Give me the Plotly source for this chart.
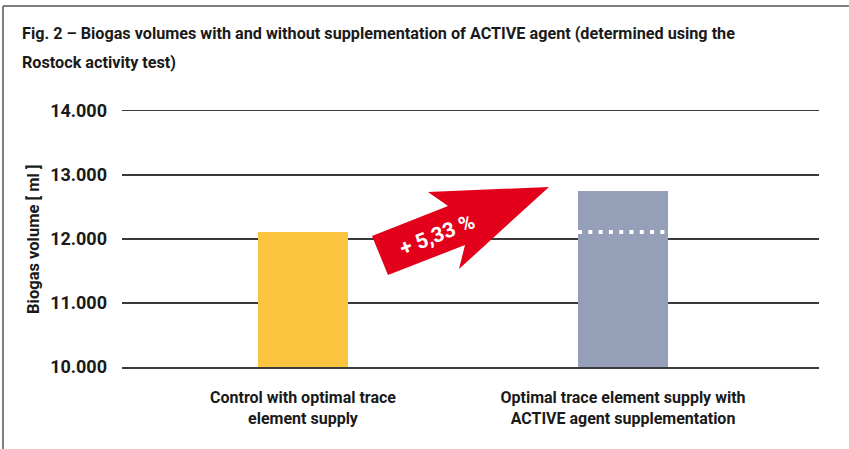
import plotly.graph_objects as go

# ---- data ----
categories = ["Control with optimal trace<br>element supply",
              "Optimal trace element supply with<br>ACTIVE agent supplementation"]
volumes = [12110, 12755]
bar_colors = ["#fbc540", "#959fb8"]
y_ticks = [10000, 11000, 12000, 13000, 14000]
y_tick_labels = ["10.000", "11.000", "12.000", "13.000", "14.000"]
increase_label = "+ 5,33 %"

FONT = "Roboto, Liberation Sans, sans-serif"
TXT = "#1a1a1a"
GRID = "#3a3a3a"
W, H = 849, 449
L, R, T, B = 122, 819, 111, 367
Y_RANGE = [10000, 14000]

def px(x, y):
    return (x - L) / (R - L), (B - y) / (B - T)

xs = list(range(len(categories)))
fig = go.Figure()
fig.add_trace(go.Bar(x=xs, y=volumes, marker=dict(color=bar_colors, line=dict(width=0)),
                     width=0.28125, base=0, hoverinfo="skip"))
fig.add_trace(go.Scatter(x=[xs[1] - 0.28125 / 2, xs[1] + 0.28125 / 2], y=[volumes[0], volumes[0]],
                         mode="lines", line=dict(color="white", width=4, dash="4px,6.3px"),
                         hoverinfo="skip"))

shapes = []
x0, y0 = px(3, 6); x1, _ = px(849, 6); _, y2 = px(3, 449)
shapes.append(dict(type="line", xref="paper", yref="paper", x0=x0, y0=y0, x1=x1, y1=y0,
                   line=dict(color="#555555", width=1.5)))
shapes.append(dict(type="line", xref="paper", yref="paper", x0=x0, y0=y0, x1=x0, y1=y2,
                   line=dict(color="#555555", width=1.5)))
pts = [(372, 236), (448, 206), (428, 192), (549, 187), (459, 269), (465, 245), (388, 275)]
path = "M " + " L ".join("%.5f,%.5f" % px(a, b) for a, b in pts) + " Z"
shapes.append(dict(type="path", xref="paper", yref="paper", path=path,
                   fillcolor="#e2001a", line=dict(width=0)))

annotations = []
tx, ty = px(20, 33)
annotations.append(dict(xref="paper", yref="paper", x=tx, y=ty, xanchor="left", yanchor="middle",
                        showarrow=False,
                        text="Fig. 2 – Biogas volumes with and without supplementation of ACTIVE agent (determined using the",
                        font=dict(family=FONT, size=16.2, color=TXT, weight="bold")))
tx, ty = px(20, 62)
annotations.append(dict(xref="paper", yref="paper", x=tx, y=ty, xanchor="left", yanchor="middle",
                        showarrow=False, text="Rostock activity test)",
                        font=dict(family=FONT, size=16.2, color=TXT, weight="bold")))
tx, ty = px(33, 239)
annotations.append(dict(xref="paper", yref="paper", x=tx, y=ty, xanchor="center", yanchor="middle",
                        showarrow=False, text="Biogas volume [ ml ]", textangle=-90,
                        font=dict(family=FONT, size=16.5, color=TXT, weight="bold")))
tx, ty = px(437, 235)
annotations.append(dict(xref="paper", yref="paper", x=tx, y=ty, xanchor="center", yanchor="middle",
                        showarrow=False, text=increase_label, textangle=-21.5,
                        font=dict(family=FONT, size=21, color="white", weight="bold")))

fig.update_layout(
    width=W, height=H,
    margin=dict(l=L, r=W - R, t=T, b=H - B, pad=0),
    paper_bgcolor="white", plot_bgcolor="white",
    showlegend=False, bargap=0,
    shapes=shapes, annotations=annotations,
    font=dict(family=FONT, size=16, color=TXT),
    xaxis=dict(range=[(L - 303) / 320, (R - 303) / 320], tickvals=xs, ticktext=categories,
               showgrid=False, zeroline=False, showline=True, mirror=True,
               linecolor=GRID, linewidth=1.5, ticks="",
               tickfont=dict(family=FONT, size=16, color=TXT, weight="bold"),
               ticklabelstandoff=15, fixedrange=True),
    yaxis=dict(range=Y_RANGE, tickvals=y_ticks, ticktext=y_tick_labels,
               showgrid=True, gridcolor=GRID, gridwidth=1.5, zeroline=False,
               showline=False, ticks="",
               tickfont=dict(family=FONT, size=18, color=TXT, weight="bold"),
               ticklabelstandoff=14, fixedrange=True),
)
post = "document.body.style.margin='0';"
fig.write_html("out.html", post_script=post, config={"staticPlot": True})
